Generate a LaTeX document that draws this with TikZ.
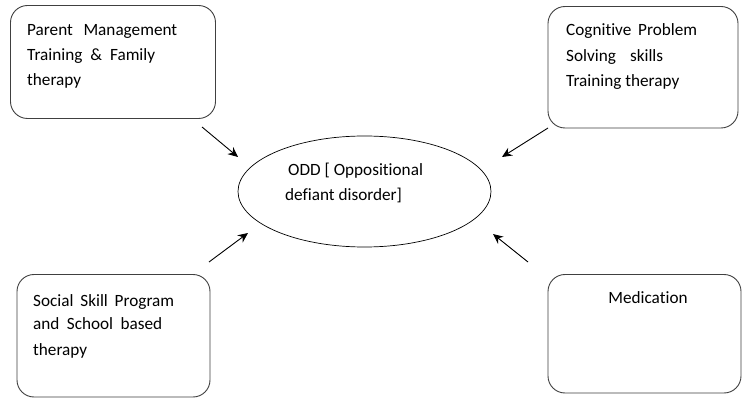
\documentclass[tikz,border=0pt]{standalone}
\usepackage{fontspec}
\setmainfont[Ligatures={NoCommon}]{Carlito}
\usetikzlibrary{shapes.geometric,arrows.meta}
\begin{document}
\begin{tikzpicture}[x=1pt,y=-1pt,
  boxline/.style={draw=black!75, line width=0.9pt, rounded corners=17pt},
  txt/.style={anchor=base west, inner sep=0pt, font=\fontsize{17.2}{25}\selectfont, text=black},
  arr/.style={line width=0.9pt, -{Stealth[length=10pt,width=9pt]}}]
\useasboundingbox (0,0) rectangle (742,398);
\fill[white] (0,0) rectangle (742,398);
% boxes
\draw[boxline] (10.5,5.5) rectangle (215.5,118.5);
\draw[boxline] (548,6.5) rectangle (738,128);
\draw[boxline] (17,274.5) rectangle (210,397);
\draw[boxline] (548,274.5) rectangle (741,393);
% ellipse
\node[ellipse, draw, line width=0.7pt, minimum width=253pt, minimum height=111pt, inner sep=0pt] (odd) at (364.5,191.5) {};
% texts box 1
\node[txt] (t1a) at (27,36) {\makebox[150pt][s]{Parent Management}};
\node[txt] (t1b) at (27,61) {\makebox[128pt][s]{Training \& Family}};
\node[txt] (t1c) at (27,86) {therapy};
% box 2
\node[txt] (t2a) at (566,36) {\makebox[131pt][s]{Cognitive Problem}};
\node[txt] (t2b) at (566,61.5) {\makebox[97pt][s]{Solving skills}};
\node[txt] (t2c) at (566,87) {Training therapy};
% box 3
\node[txt] (t3a) at (33,306) {\makebox[141pt][s]{Social Skill Program}};
\node[txt] (t3b) at (33,330) {\makebox[129pt][s]{and School based}};
\node[txt] (t3c) at (33,355) {therapy};
% box 4
\node[txt, anchor=base] (t4a) at (648,304) {Medication};
% ellipse text
\node[txt] (toa) at (288,176) {ODD [ Oppositional};
\node[txt] (tob) at (285,201) {defiant disorder]};
% arrows
\coordinate (a1s) at (202,127);
\coordinate (a1e) at (238,157);
\coordinate (a2s) at (548,128);
\coordinate (a2e) at (502,157);
\coordinate (a3s) at (209,262);
\coordinate (a3e) at (248,233);
\coordinate (a4s) at (528,262);
\coordinate (a4e) at (493,234);
\draw[arr] (a1s) -- (a1e);
\draw[arr] (a2s) -- (a2e);
\draw[arr] (a3s) -- (a3e);
\draw[arr] (a4s) -- (a4e);
\end{tikzpicture}
\end{document}
